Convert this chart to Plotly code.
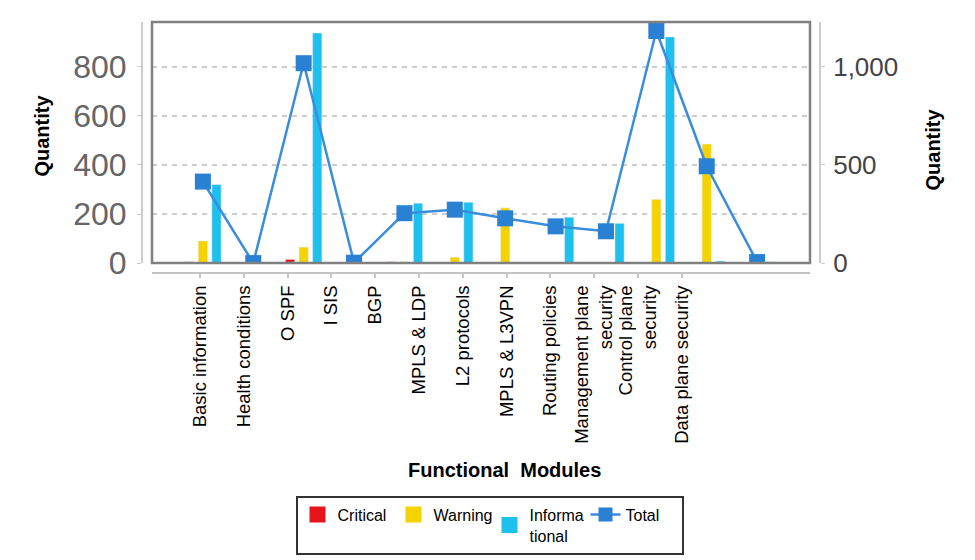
import plotly.graph_objects as go

categories = ["Basic information", "Health conditions", "O SPF", "I SIS", "BGP",
              "MPLS & LDP", "L2 protocols", "MPLS & L3VPN", "Routing policies",
              "Management plane<br>security", "Control plane<br>security",
              "Data plane security"]
critical = [5, 0, 15, 0, 5, 0, 0, 0, 0, 0, 0, 0]
warning = [90, 0, 65, 0, 5, 24, 225, 0, 0, 260, 485, 0]
informational = [320, 0, 938, 2, 244, 248, 0, 187, 162, 922, 8, 5]
total = [415, 0, 1018, 2, 254, 272, 228, 187, 162, 1182, 493, 5]
left_ticks = [0, 200, 400, 600, 800]
right_ticks = [0, 500, 1000]

FONT = "Arial, 'Liberation Sans', sans-serif"
idx = list(range(len(categories)))

RED, YEL, CYA = "#e8141c", "#f5d300", "#1ec0ee"

fig = go.Figure()
fig.add_trace(go.Bar(name="Critical", x=idx, y=critical, marker_color=RED,
                     xaxis="x", yaxis="y", showlegend=False))
fig.add_trace(go.Bar(name="Warning", x=idx, y=warning, marker_color=YEL,
                     xaxis="x", yaxis="y", showlegend=False))
fig.add_trace(go.Bar(name="Informational", x=idx, y=informational,
                     marker_color=CYA, xaxis="x", yaxis="y", showlegend=False))
fig.add_trace(go.Scatter(name="Total", x=idx, y=total, mode="lines+markers",
                         line=dict(color="#3a8cdc", width=2.5),
                         marker=dict(symbol="square", size=16, color="#2a80d2"),
                         xaxis="x", yaxis="y2", showlegend=False))
# carrier for the category label axis
fig.add_trace(go.Scatter(x=idx, y=[None] * len(idx), xaxis="x3", yaxis="y",
                         showlegend=False, hoverinfo="skip"))
# legend entries
for nm, col in [("Critical", RED), ("Warning", YEL), ("Informa<br>tional", CYA)]:
    fig.add_trace(go.Scatter(name=nm, x=[None], y=[None], mode="markers",
                             marker=dict(symbol="square", size=16, color=col),
                             xaxis="x", yaxis="y"))
fig.add_trace(go.Scatter(name="Total", x=[None], y=[None], mode="lines+markers",
                         line=dict(color="#3a8cdc", width=2.5),
                         marker=dict(symbol="square", size=14, color="#2a80d2"),
                         xaxis="x", yaxis="y"))

OFF = 8                      # default page margin around the figure
W, H = 975 - 2 * OFF, 560 - OFF
ML, MR, MT, MB = 90, 90, 5, 5
PW, PH = W - ML - MR, H - MT - MB

def px(x):
    return (x - OFF - ML) / PW

def py(y):
    return (H - MB - (y - OFF)) / PH

xdom = [px(152), px(810)]
ydom = [py(264), py(22)]

fig.update_layout(
    width=W, height=H,
    margin=dict(l=ML, r=MR, t=MT, b=MB),
    paper_bgcolor="white", plot_bgcolor="white",
    font=dict(family=FONT, color="black"),
    barmode="group", bargap=0.19, bargroupgap=0.32,
    xaxis=dict(domain=xdom, range=[-1.01, 12.05], showticklabels=False,
               showgrid=False, zeroline=False, showline=False, ticks=""),
    xaxis3=dict(domain=xdom, overlaying="x", anchor="free", position=py(274),
                range=[(152 - 200) / 43.8, (810 - 200) / 43.8],
                tickmode="array", tickvals=idx, ticktext=categories,
                tickangle=-90, tickfont=dict(size=18.5, color="black", family=FONT),
                showline=True, linecolor="#c4c4c4", linewidth=2,
                ticks="outside", ticklen=4, tickcolor="#c4c4c4", tickwidth=1.5,
                showgrid=False, zeroline=False, automargin=False),
    yaxis=dict(domain=ydom, range=[0, 983], anchor="free", position=px(142),
               side="left", tickvals=left_ticks,
               tickfont=dict(size=32, color="#666666", family=FONT),
               showline=True, linecolor="#cccccc", linewidth=2,
               ticks="outside", ticklen=4, tickcolor="#cccccc",
               ticklabelstandoff=4,
               showgrid=True, gridcolor="#cdcdcd", gridwidth=2, griddash="5px,5px",
               zeroline=False, automargin=False),
    yaxis2=dict(overlaying="y", range=[0, 1228], anchor="free", position=px(820),
                side="right", tickvals=right_ticks, tickformat=",",
                tickfont=dict(size=26, color="#444444", family=FONT),
                showline=True, linecolor="#cccccc", linewidth=2,
                ticks="outside", ticklen=4, tickcolor="#cccccc",
                ticklabelstandoff=3,
                showgrid=False, zeroline=False, automargin=False),
    legend=dict(orientation="h", x=px(489.5), xanchor="center",
                y=py(527), yanchor="middle", valign="middle",
                entrywidth=51, itemwidth=30,
                bordercolor="#333333", borderwidth=2, bgcolor="white",
                font=dict(size=16, color="black", family=FONT)),
    shapes=[dict(type="rect", xref="x domain", yref="y domain",
                 x0=0, x1=1, y0=0, y1=1,
                 line=dict(color="#808080", width=2.5), layer="above")],
    annotations=[
        dict(text="<b>Quantity</b>", textangle=-90, xref="paper", yref="paper",
             x=px(42), y=py(136), xanchor="center", yanchor="middle",
             showarrow=False, font=dict(size=20, color="black", family=FONT)),
        dict(text="<b>Quantity</b>", textangle=-90, xref="paper", yref="paper",
             x=px(933), y=py(150), xanchor="center", yanchor="middle",
             showarrow=False, font=dict(size=20, color="black", family=FONT)),
        dict(text="<b>Functional\u00a0 Modules</b>", xref="paper", yref="paper",
             x=px(505), y=py(472), xanchor="center", yanchor="middle",
             showarrow=False, font=dict(size=20, color="black", family=FONT)),
    ],
)

fig.write_html("out.html")
